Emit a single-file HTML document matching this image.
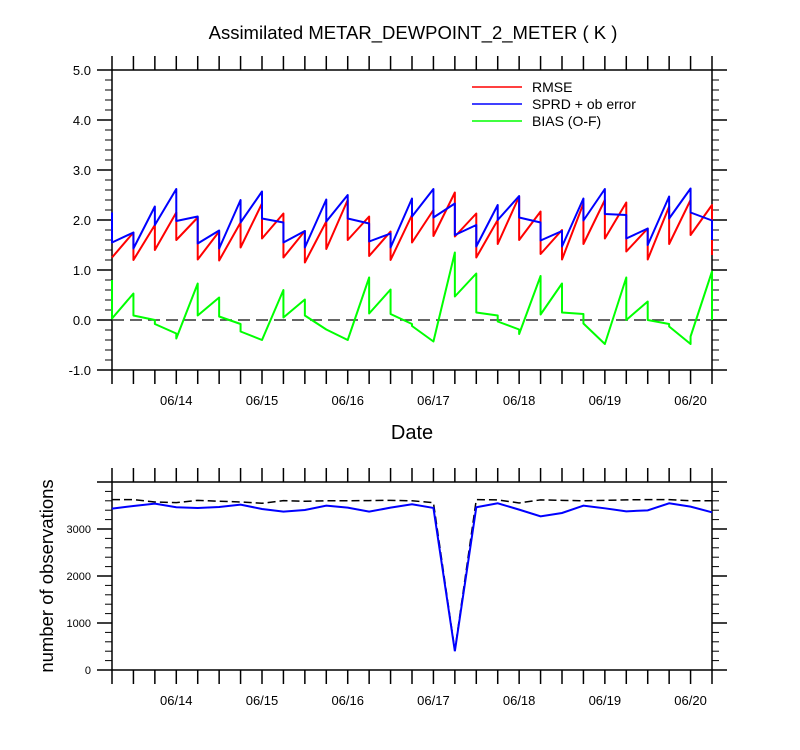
<!DOCTYPE html>
<html><head><meta charset="utf-8"><style>
html,body{margin:0;padding:0;background:#fff;}
svg{display:block;font-family:"Liberation Sans",sans-serif;}
</style></head><body>
<svg id="chart" width="800" height="750" viewBox="0 0 800 750" xmlns="http://www.w3.org/2000/svg">
<text x="413" y="39" font-size="18.5" text-anchor="middle">Assimilated METAR_DEWPOINT_2_METER ( K )</text>
<text x="412" y="439" font-size="20" text-anchor="middle">Date</text>
<text x="0" y="0" font-size="18.5" text-anchor="middle" transform="translate(53,576) rotate(-90)">number of observations</text>
<g id="topPanel"></g>
<g id="botPanel"></g>
<g>
<line x1="472" y1="87" x2="522" y2="87" stroke="#f00" stroke-width="1.5"/>
<text x="532" y="92" font-size="14">RMSE</text>
<line x1="472" y1="104" x2="522" y2="104" stroke="#00f" stroke-width="1.5"/>
<text x="532" y="109" font-size="14">SPRD + ob error</text>
<line x1="472" y1="121" x2="522" y2="121" stroke="#0f0" stroke-width="1.5"/>
<text x="532" y="126" font-size="14">BIAS (O-F)</text>
</g>
</svg>
<script>
const dateLabels = ["06/14","06/15","06/16","06/17","06/18","06/19","06/20"];
const yTicksTop = ["5.0","4.0","3.0","2.0","1.0","0.0","-1.0"];
const yTicksBot = ["0","1000","2000","3000"];
const rmseArrive = [1.25,1.75,1.9,2.15,2.05,1.77,1.95,2.33,2.13,1.78,1.97,2.4,2.07,1.77,2.1,2.2,2.55,2.13,2.0,2.47,2.17,1.8,2.33,2.4,2.35,1.83,2.27,2.4,2.3];
const rmseDepart = [1.25,1.2,1.4,1.6,1.21,1.19,1.45,1.63,1.25,1.15,1.42,1.6,1.28,1.2,1.55,1.68,1.67,1.25,1.52,1.6,1.32,1.21,1.52,1.63,1.37,1.21,1.52,1.7,1.3];
const sprdArrive = [2.15,1.75,2.27,2.62,2.07,1.79,2.4,2.57,1.95,1.78,2.41,2.5,1.93,1.73,2.43,2.62,2.33,1.9,2.3,2.48,1.95,1.78,2.43,2.62,2.1,1.83,2.47,2.63,1.99];
const sprdDepart = [1.55,1.43,1.9,1.98,1.53,1.43,1.95,2.03,1.55,1.45,1.97,2.03,1.57,1.45,2.07,2.05,1.7,1.47,2.0,2.05,1.59,1.47,1.99,2.12,1.63,1.5,2.03,2.15,1.6];
const biasArrive = [0.8,0.53,0,-0.27,0.73,0.45,-0.08,-0.4,0.6,0.41,-0.19,-0.4,0.85,0.61,-0.08,-0.43,1.35,0.93,0.09,-0.19,0.88,0.73,0.12,-0.48,0.85,0.37,-0.08,-0.48,0.97];
const biasDepart = [0.03,0.09,-0.08,-0.37,0.09,0.07,-0.23,-0.4,0.05,0.09,-0.19,-0.4,0.13,0.12,-0.12,-0.43,0.47,0.15,-0.03,-0.28,0.11,0.15,-0.07,-0.48,0,0,-0.13,-0.33,0];
const obsUsed = [3433,3490,3540,3462,3448,3469,3518,3426,3369,3404,3497,3455,3369,3455,3526,3448,400,3462,3547,3412,3270,3341,3497,3440,3376,3397,3547,3476,3355];
const obsPossible = [3625,3625,3575,3561,3610,3590,3575,3547,3603,3590,3600,3600,3605,3610,3600,3561,420,3625,3620,3554,3620,3610,3600,3610,3620,3625,3625,3600,3600];

const NS="http://www.w3.org/2000/svg";
const X0=112,X1=712,NT=28;
function xs(i){return X0+(X1-X0)*i/NT;}
function yTop(v){return 320-50*v;}
function yBot(v){return 670-v*188/4000;}
function mk(tag,attrs,parent){const e=document.createElementNS(NS,tag);for(const k in attrs)e.setAttribute(k,attrs[k]);parent.appendChild(e);return e;}
const gTop=document.getElementById('topPanel'),gBot=document.getElementById('botPanel');

function frame(g,yT,yB,name){
  const r=mk('rect',{x:X0,y:yT,width:X1-X0,height:yB-yT,fill:'none',stroke:'#000','stroke-width':1.5},g);
  
  
  for(let i=0;i<=NT;i++){
    const x=xs(i);
    const t1=mk('line',{x1:x,y1:yT,x2:x,y2:yT-14,stroke:'#000','stroke-width':1.5},g);
    
    
    const t2=mk('line',{x1:x,y1:yB,x2:x,y2:yB+14,stroke:'#000','stroke-width':1.5},g);
    
    
  }
  dateLabels.forEach((d,k)=>{
    const t=mk('text',{x:xs(3+4*k),y:yB+35,'font-size':13,'text-anchor':'middle'},g);
    t.textContent=d;
    
    
  });
}
function ytick(g,y,len){
  const a=mk('line',{x1:X0,y1:y,x2:X0-len,y2:y,stroke:'#000','stroke-width':len>10?1.5:1},g);
  
  
  const b=mk('line',{x1:X1,y1:y,x2:X1+len,y2:y,stroke:'#000','stroke-width':len>10?1.5:1},g);
  
  
}
frame(gTop,70,370,'top');
for(let v=-1;v<=5.001;v+=0.2){ytick(gTop,yTop(v),Math.abs(v-Math.round(v))<0.01?15:7);}
yTicksTop.forEach(s=>{
  const t=mk('text',{x:91,y:yTop(parseFloat(s))+5,'font-size':13,'text-anchor':'end'},gTop);
  t.textContent=s;
  
  
});
const zl=mk('line',{x1:X0,y1:yTop(0),x2:X1,y2:yTop(0),stroke:'#333','stroke-width':1.5,'stroke-dasharray':'12 6'},gTop);


function saw(arr,dep,color,name){
  let d='';
  for(let i=0;i<=NT;i++){
    d+=(i===0?'M':'L')+xs(i)+','+yTop(arr[i])+' L'+xs(i)+','+yTop(dep[i])+' ';
  }
  const p=mk('path',{d:d,fill:'none',stroke:color,'stroke-width':2,'stroke-linejoin':'round'},gTop);
  
  
}
saw(rmseArrive,rmseDepart,'#f00','rmse-line');
saw(sprdArrive,sprdDepart,'#00f','sprd-line');
saw(biasArrive,biasDepart,'#0f0','bias-line');

frame(gBot,482,670,'bottom');
for(let v=0;v<=4000;v+=200){ytick(gBot,yBot(v),v%1000===0?15:7);}
yTicksBot.forEach(s=>{
  const t=mk('text',{x:91,y:yBot(parseFloat(s))+4,'font-size':11,'text-anchor':'end'},gBot);
  t.textContent=s;
  
  
});
function line(vals,attrs,name){
  const pts=vals.map((v,i)=>xs(i)+','+yBot(v)).join(' ');
  const p=mk('polyline',Object.assign({points:pts,fill:'none'},attrs),gBot);
  
  
}
line(obsPossible,{stroke:'#000','stroke-width':1.5,'stroke-dasharray':'8 4'},'obs-possible-line');
line(obsUsed,{stroke:'#00f','stroke-width':2},'obs-used-line');
</script>
</body></html>
